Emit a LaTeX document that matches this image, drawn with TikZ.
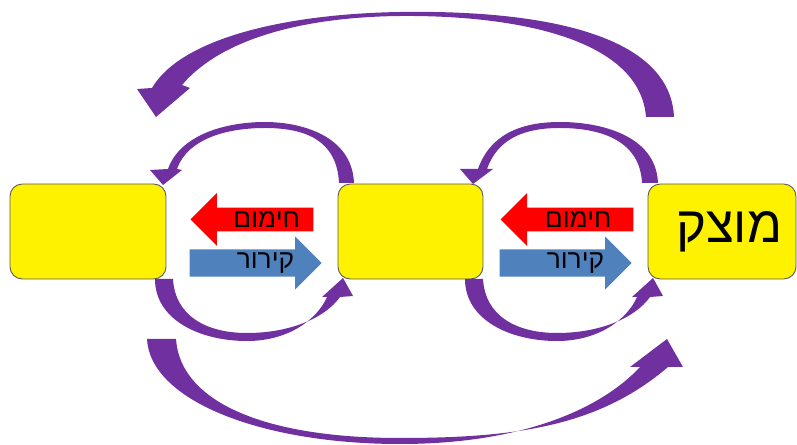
\documentclass[tikz,border=0pt]{standalone}
\usepackage{fontspec}
\newfontfamily\hebfont[Script=Hebrew]{Liberation Sans}
\TeXXeTstate=1
\usetikzlibrary{shapes.arrows}
\definecolor{violet1}{HTML}{7030A0}
\definecolor{blue1}{HTML}{4F81BD}

\begin{document}
\begin{tikzpicture}
  [x=0.02cm,y=-0.02cm,
   box/.style={rectangle,rounded corners=7pt,draw=black!65,line width=0.5pt,fill=yellow,minimum width=#1,minimum height=1.9cm,inner sep=0pt},
   warm/.style={single arrow,shape border rotate=180,fill=red,minimum width=1.06cm,single arrow head extend=0.25cm,inner sep=1pt,anchor=tip,align=center,font=\hebfont\fontsize{15}{16}\selectfont},
   cool/.style={single arrow,fill=blue1,minimum width=1.06cm,single arrow head extend=0.24cm,inner sep=1pt,anchor=tip,align=center,font=\hebfont\fontsize{15}{16}\selectfont},
   purplefill/.style={fill=violet1}]
  \useasboundingbox (0,0) rectangle (797,445);

  % boxes
  \node[box=3.12cm] (b1) at (88,231.5) {};
  \node[box=2.9cm] (b2) at (410.5,231.5) {};
  \node[box=2.96cm,font=\hebfont\fontsize{29}{32}\selectfont] (b3) at (722,231.5) {\hspace{8pt}\beginR מוצק\endR};

  % heating / cooling
  \node[warm,text width=1.85cm,minimum height=2.46cm] (h1) at (190,219.5) {\hspace{10pt}\beginR חימום\endR};
  \node[warm,text width=2.05cm,minimum height=2.66cm] (h2) at (500,219.5) {\hspace{6pt}\beginR חימום\endR};
  \node[cool,text width=1.99cm,minimum height=2.64cm] (k1) at (322,263) {\hspace{19pt}\beginR קירור\endR};
  \node[cool,text width=1.99cm,minimum height=2.64cm] (k2) at (632,263) {\hspace{19pt}\beginR קירור\endR};

  % big arrows
  \fill[purplefill] (646,117) -- (674,117) .. controls (670,30) and (530,10) .. (400,12)
    .. controls (280,14) and (180,40) .. (152,88) -- (137,89) -- (156,117) -- (190,88) -- (182,85)
    .. controls (220,40) and (300,17) .. (400,16) .. controls (520,15) and (640,40) .. (646,117) -- cycle;
  \fill[purplefill] (147,339) .. controls (150,400) and (260,444) .. (400,444)
    .. controls (520,444) and (600,410) .. (640,367) -- (630,367) -- (667,339) -- (683,367) -- (668,367)
    .. controls (600,425) and (520,438) .. (400,438) .. controls (260,438) and (180,400) .. (176,339) -- cycle;

  % small arrows above
  \fill[purplefill] (339,183) -- (354,183) .. controls (352,135) and (300,122) .. (265,122)
    .. controls (225,122) and (180,135) .. (168,169) -- (150,170) -- (163,185) -- (182,170) -- (177,169)
    .. controls (188,138) and (228,128) .. (265,128) .. controls (305,128) and (337,140) .. (339,183) -- cycle;
  \fill[purplefill] (642,183) -- (658,183) .. controls (656,135) and (600,122) .. (560,122)
    .. controls (520,122) and (490,135) .. (478,169) -- (460,169) -- (473,184) -- (493,169) -- (487,169)
    .. controls (498,138) and (525,128) .. (560,128) .. controls (600,128) and (640,140) .. (642,183) -- cycle;

  % small arrows below
  \foreach \dx in {0,310}
    \fill[purplefill,shift={(\dx,0)}] (155,279) .. controls (155,320) and (200,341) .. (247,341)
      .. controls (290,341) and (318,318) .. (327,297) -- (322,297) -- (343,278) -- (353,296) -- (340,297)
      .. controls (325,318) and (290,333) .. (247,333) .. controls (205,333) and (175,315) .. (173,279) -- cycle;
\end{tikzpicture}
\end{document}
